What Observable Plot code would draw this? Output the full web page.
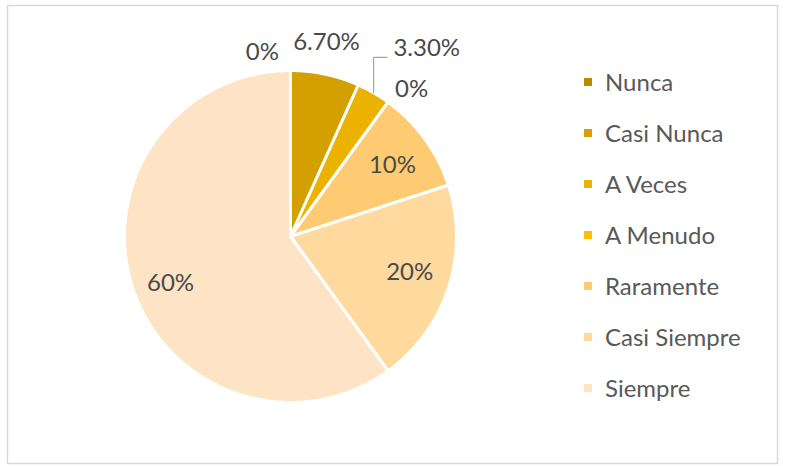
<!DOCTYPE html>
<html>
<head>
<meta charset="utf-8">
<script src="https://cdn.jsdelivr.net/npm/d3@7"></script>
<script src="https://cdn.jsdelivr.net/npm/@observablehq/plot@0.6"></script>
<style>
  body { margin: 0; background: #fff; }
  #wrap { position: relative; width: 785px; height: 466px; font-family: Lato, "Open Sans", sans-serif; }
  #wrap svg { position: absolute; left: 0; top: 0; }
  #legend { position: absolute; left: 584px; top: 56px; }
  .item { height: 51px; display: flex; align-items: center; color: #595959; font-size: 24px; }
  .sw { width: 8px; height: 8px; margin-right: 13px; }
</style>
</head>
<body>
<div id="wrap"><div id="legend"></div></div>
<script>
// ---- data ----
const categories = ["Nunca", "Casi Nunca", "A Veces", "A Menudo", "Raramente", "Casi Siempre", "Siempre"];
const values = [0, 6.7, 3.3, 0, 10, 20, 60];
const labels = ["0%", "6.70%", "3.30%", "0%", "10%", "20%", "60%"];
const colors = ["#B88C00", "#D4A000", "#EBB300", "#FFC000", "#FFCB72", "#FFD99E", "#FEE4C4"];

// ---- layout (label placement: [radius, angle in degrees or null = mid-angle]) ----
const labelPolar = [[1.12, -8.7], [1.19, 10.5], [1.40, 35.9], [1.15, 39.4], [0.75, 55], [0.75, 106.8], [0.776, 248.6]];
const leaderFor = 2; // index of slice with a leader line

const total = d3.sum(values);
const ends = d3.cumsum(values);
const slices = categories.map((c, i) => {
  const a0 = (ends[i] - values[i]) / total * 2 * Math.PI;
  const a1 = ends[i] / total * 2 * Math.PI;
  return {category: c, value: values[i], a0, a1, mid: (a0 + a1) / 2, i};
});

const polygonPts = [];
for (const s of slices) {
  if (s.value <= 0) continue;
  polygonPts.push({category: s.category, x: 0, y: 0});
  const n = Math.max(2, Math.ceil((s.a1 - s.a0) / 0.01));
  for (let k = 0; k <= n; k++) {
    const a = s.a0 + (s.a1 - s.a0) * k / n;
    polygonPts.push({category: s.category, x: Math.sin(a), y: Math.cos(a)});
  }
}

const labelPts = slices.map(s => {
  const [r, deg] = labelPolar[s.i];
  const a = deg === null ? s.mid : deg * Math.PI / 180;
  return {label: labels[s.i], x: r * Math.sin(a), y: r * Math.cos(a)};
});

const ls = slices[leaderFor];
const lp = labelPts[leaderFor];
const leaderPts = [
  {x: Math.sin(ls.mid), y: Math.cos(ls.mid)},
  {x: Math.sin(ls.mid), y: lp.y - 0.055},
  {x: lp.x - 0.24, y: lp.y - 0.055}
];

const chart = Plot.plot({
  width: 785,
  height: 466,
  marginLeft: 7, marginRight: 8, marginTop: 5, marginBottom: 3,
  x: {domain: [-1, 1], range: [124, 456], axis: null},
  y: {domain: [-1, 1], range: [402, 70], axis: null},
  color: {domain: categories, range: colors},
  style: {fontFamily: "Lato, 'Open Sans', sans-serif", background: "#fff"},
  marks: [
    Plot.frame({stroke: "#D9D9D9", strokeWidth: 1.5}),
    Plot.line(polygonPts, {x: "x", y: "y", z: "category", fill: "category", stroke: "#fff", strokeWidth: 3, curve: "linear-closed", strokeLinejoin: "round"}),
    Plot.line(leaderPts, {x: "x", y: "y", stroke: "#A6A6A6", strokeWidth: 1.2}),
    Plot.text(labelPts, {x: "x", y: "y", text: "label", fill: "#4A4A4A", fontSize: 24})
  ]
});
document.getElementById("wrap").prepend(chart);

const legend = d3.select("#legend");
categories.forEach((c, i) => {
  const it = legend.append("div").attr("class", "item");
  it.append("div").attr("class", "sw").style("background", colors[i]);
  it.append("span").text(c);
});
</script>
</body>
</html>
